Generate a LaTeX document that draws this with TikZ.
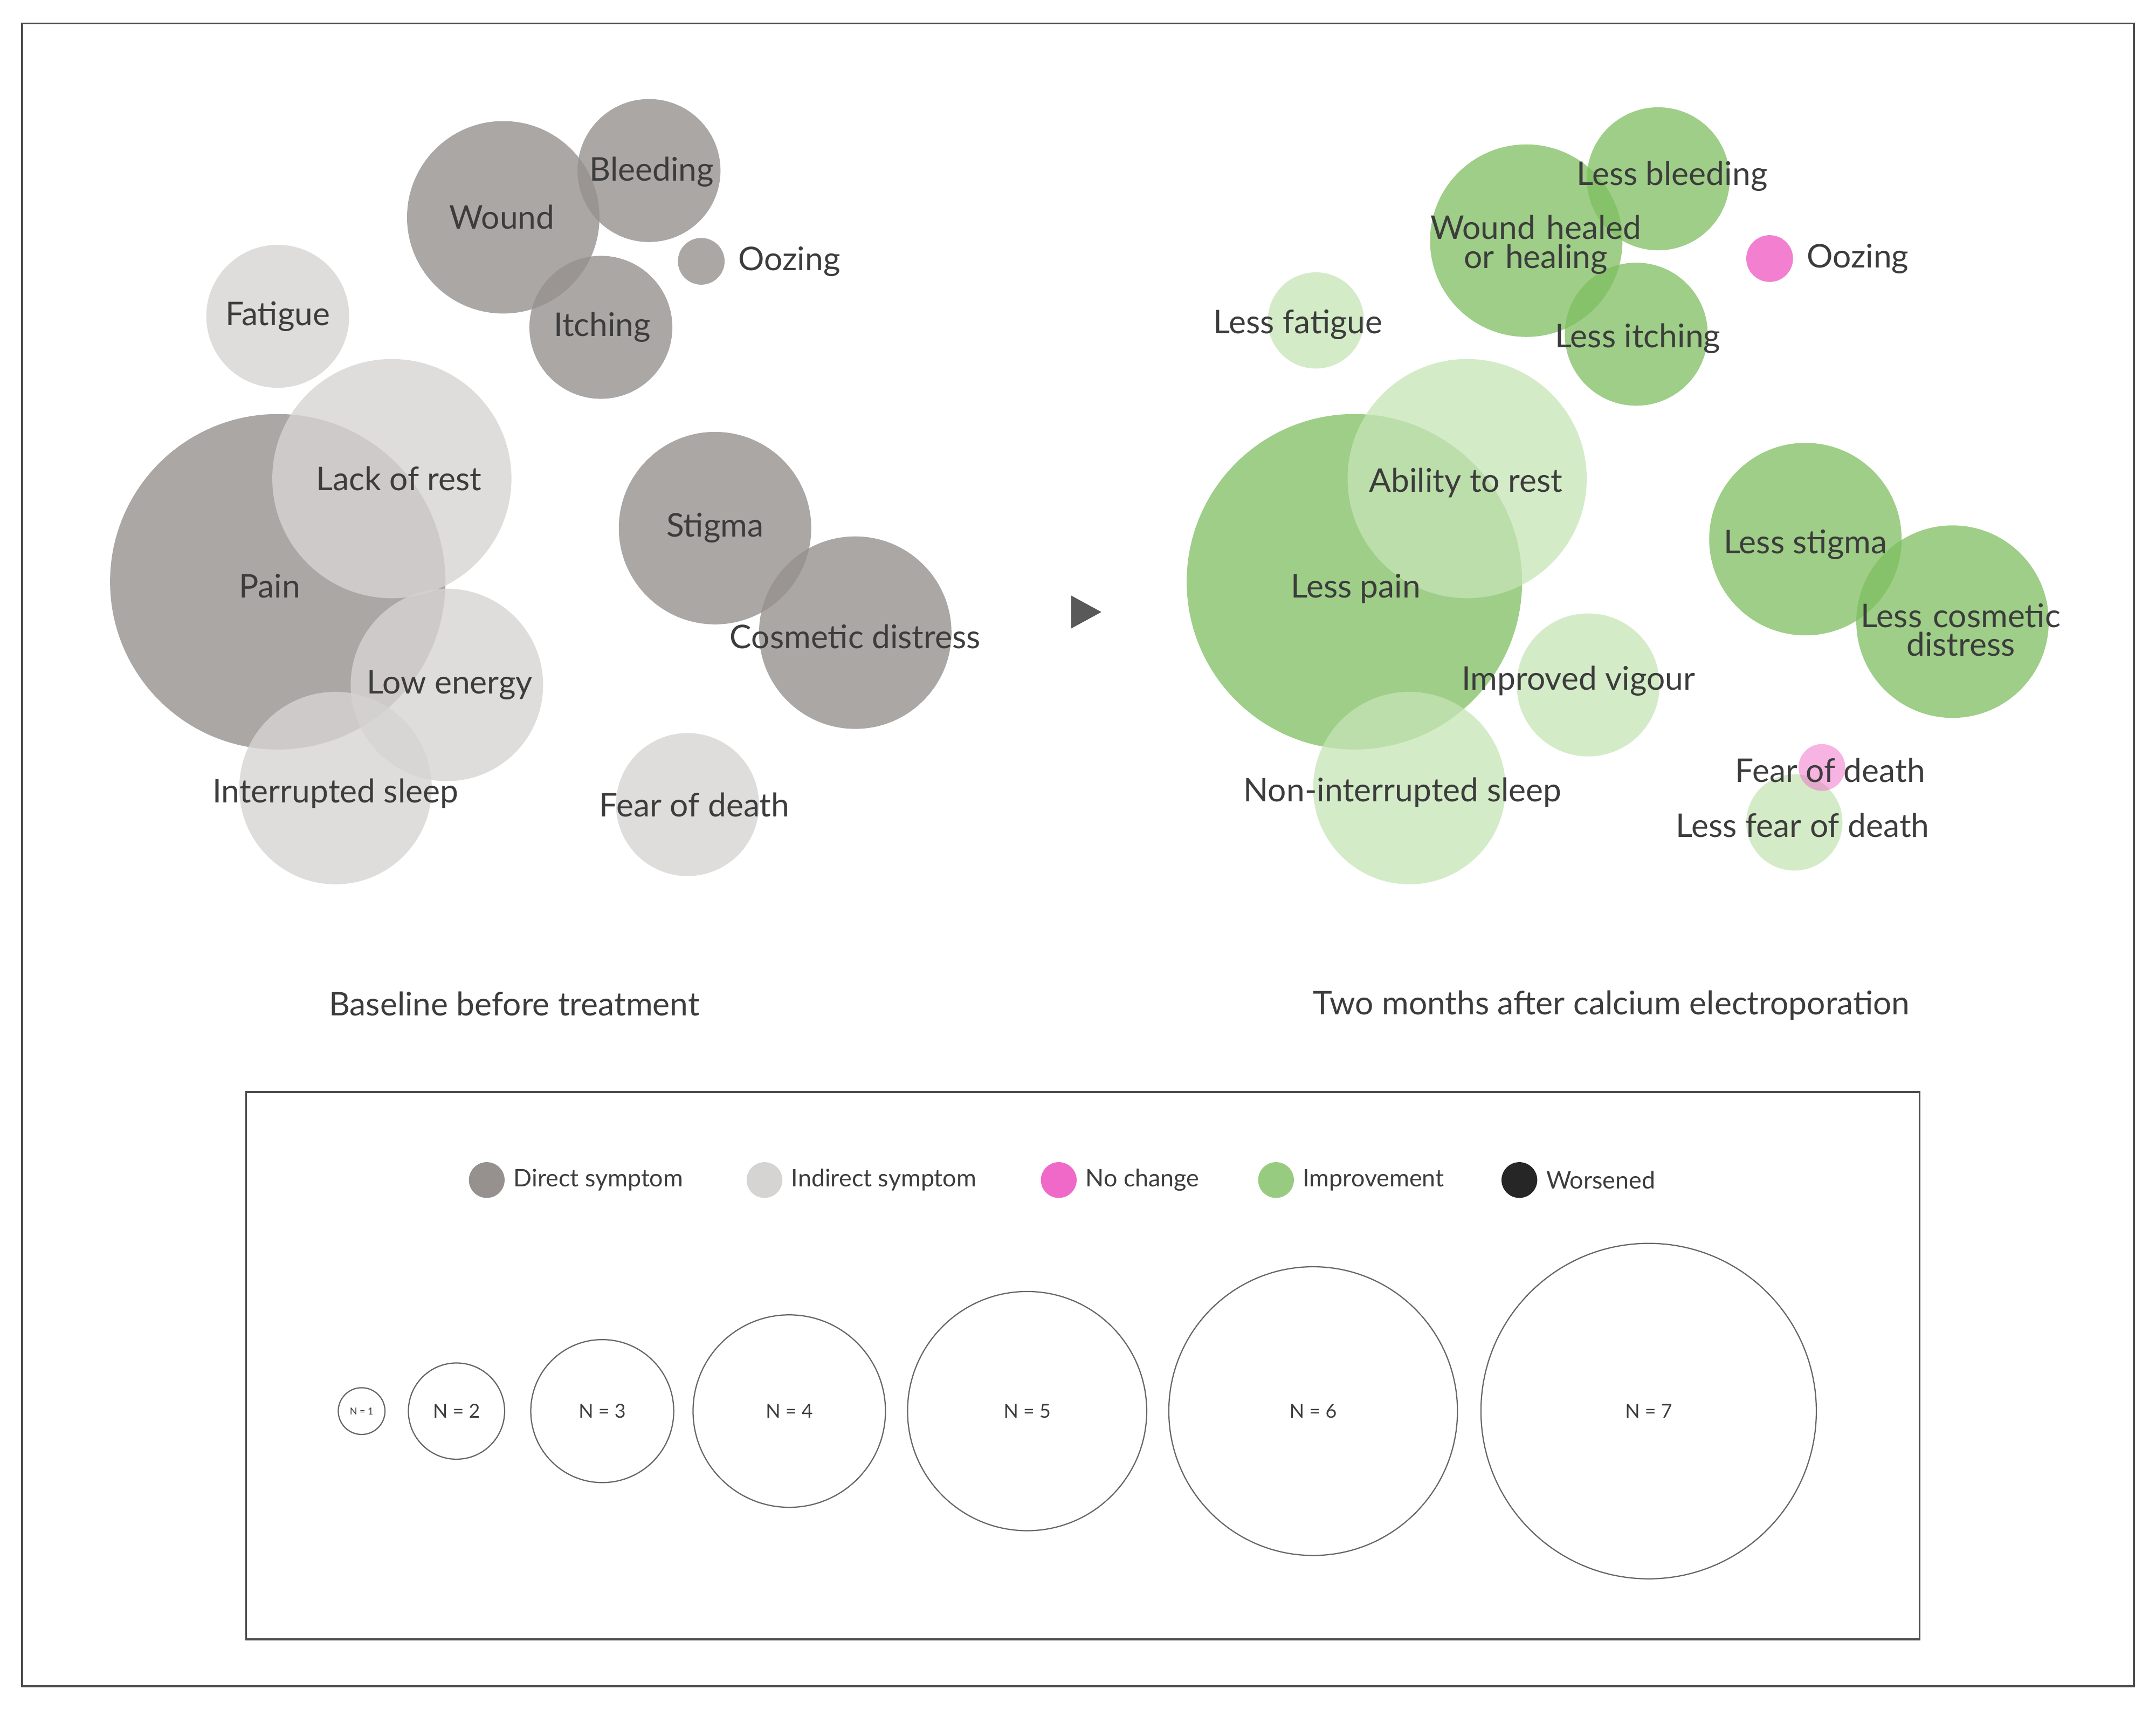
\documentclass[tikz,border=0pt]{standalone}
\usepackage{fontspec}
\setmainfont{Lato}
\usetikzlibrary{positioning}
\definecolor{direct}{RGB}{150,145,142}
\definecolor{indirect}{RGB}{214,212,211}
\definecolor{improve}{RGB}{125,190,95}
\definecolor{lightimp}{RGB}{198,228,182}
\definecolor{nochange}{RGB}{240,105,200}
\definecolor{txt}{RGB}{60,60,60}
\begin{document}
\begin{tikzpicture}[x=0.02cm,y=-0.02cm,
    bub/.style={circle,inner sep=0pt,minimum size=#1*0.04cm},
    dir/.style={bub=#1,fill=direct,fill opacity=.8},
    ind/.style={bub=#1,fill=indirect,fill opacity=.8},
    imp/.style={bub=#1,fill=improve,fill opacity=.75},
    lim/.style={bub=#1,fill=lightimp,fill opacity=.75},
    nch/.style={bub=#1,fill=nochange,fill opacity=.85},
    lab/.style={text=txt,font=\fontsize{13.5}{15}\selectfont,align=center},
    leg/.style={text=txt,font=\fontsize{10}{12}\selectfont,anchor=west},
    size/.style={bub=#1,draw=black!60,line width=.5pt},
    nlab/.style={text=txt,font=\fontsize{8}{9}\selectfont}]
  \useasboundingbox (0,0) rectangle (1568,1243);
  \draw[black!70,line width=.8pt] (16,17) rectangle (1552,1226);
  % baseline bubbles
  \node [dir=70] (wound) at (366,158) {};
  \node [dir=52] (bleed) at (472,124) {};
  \node [dir=52] (itch) at (437,238) {};
  \node [dir=17] (ooze) at (510,190) {};
  \node [ind=52] (fatig) at (202,230) {};
  \node [dir=122] (pain) at (202,423) {};
  \node [ind=87] (rest) at (285,348) {};
  \node [ind=70] (energy) at (325,498) {};
  \node [ind=70] (sleep) at (244,573) {};
  \node [dir=70] (stigma) at (520,384) {};
  \node [dir=70] (cosm) at (622,460) {};
  \node [ind=52] (fear) at (500,585) {};
  \node [lab] at (365,158) {Wound};
  \node [lab] at (474,125) {Bleeding};
  \node [lab] at (438,238) {Itching};
  \node [lab,right=2pt of ooze] {Oozing};
  \node [lab] at (202,230) {Fatigue};
  \node [lab] at (290,348) {Lack of rest};
  \node [lab] at (196,426) {Pain};
  \node [lab] at (327,498) {Low energy};
  \node [lab] at (244,577) {Interrupted sleep};
  \node [lab] at (520,384) {Stigma};
  \node [lab] at (622,463) {Cosmetic distress};
  \node [lab] at (505,585) {Fear of death};
  \node [lab] (basel) at (374,730) {Baseline before treatment};
  % arrow
  \fill[black!65] (779,433) -- (801,445) -- (779,457) -- cycle;
  % after bubbles
  \node [imp=70] (heal) at (1110,175) {};
  \node [imp=52] (lbleed) at (1206,130) {};
  \node [imp=52] (litch) at (1190,243) {};
  \node [nch=17] (rooze) at (1287,188) {};
  \node [lim=35] (lfatig) at (957,233) {};
  \node [imp=122] (lpain) at (985,423) {};
  \node [lim=87] (arest) at (1067,348) {};
  \node [lim=52] (vigour) at (1155,498) {};
  \node [lim=70] (nsleep) at (1025,573) {};
  \node [imp=70] (lstigma) at (1313,392) {};
  \node [imp=70] (lcosm) at (1420,452) {};
  \node [lim=35] (lfear) at (1305,598) {};
  \node [nch=17,fill opacity=.5] (rfear) at (1325,558) {};
  \node [lab] at (1216,128) {Less bleeding};
  \node [lab,text width=200,align=center] at (1117,178) {Wound healed\\[-3pt]or healing};
  \node [lab] at (1191,246) {Less itching};
  \node [lab,right=2pt of rooze] {Oozing};
  \node [lab] at (944,236) {Less fatigue};
  \node [lab] at (1066,351) {Ability to rest};
  \node [lab] at (986,428) {Less pain};
  \node [lab] at (1148,495) {Improved vigour};
  \node [lab] at (1020,576) {Non-interrupted sleep};
  \node [lab] at (1313,396) {Less stigma};
  \node [lab,text width=200] at (1426,458) {Less cosmetic\\[-3pt]distress};
  \node [lab] at (1331,560) {Fear of death};
  \node [lab] at (1311,600) {Less fear of death};
  \node [lab] (after) at (1172,731) {Two months after calcium electroporation};
  % legend
  \draw[black!70,line width=.8pt] (179,794) rectangle (1396,1192);
  \node [bub=13,fill=direct] (kdir) at (354,858) {};
  \node [leg,right=0pt of kdir] {Direct symptom};
  \node [bub=13,fill=indirect] (kind) at (556,858) {};
  \node [leg,right=0pt of kind] {Indirect symptom};
  \node [bub=13,fill=nochange] (knch) at (770,858) {};
  \node [leg,right=0pt of knch] {No change};
  \node [bub=13,fill=improve!80] (kimp) at (928,858) {};
  \node [leg,right=0pt of kimp] {Improvement};
  \node [bub=13,fill=black!85] (kwor) at (1105,858) {};
  \node [leg,right=0pt of kwor] {Worsened};
  \node [size=17] (n1) at (263,1026) {};
  \node [text=txt,font=\fontsize{4}{5}\selectfont] at (n1) {N = 1};
  \node [size=35] (n2) at (332,1026) {};
  \node [nlab] at (n2) {N = 2};
  \node [size=52] (n3) at (438,1026) {};
  \node [nlab] at (n3) {N = 3};
  \node [size=70] (n4) at (574,1026) {};
  \node [nlab] at (n4) {N = 4};
  \node [size=87] (n5) at (747,1026) {};
  \node [nlab] at (n5) {N = 5};
  \node [size=105] (n6) at (955,1026) {};
  \node [nlab] at (n6) {N = 6};
  \node [size=122] (n7) at (1199,1026) {};
  \node [nlab] at (n7) {N = 7};
\end{tikzpicture}
\end{document}
